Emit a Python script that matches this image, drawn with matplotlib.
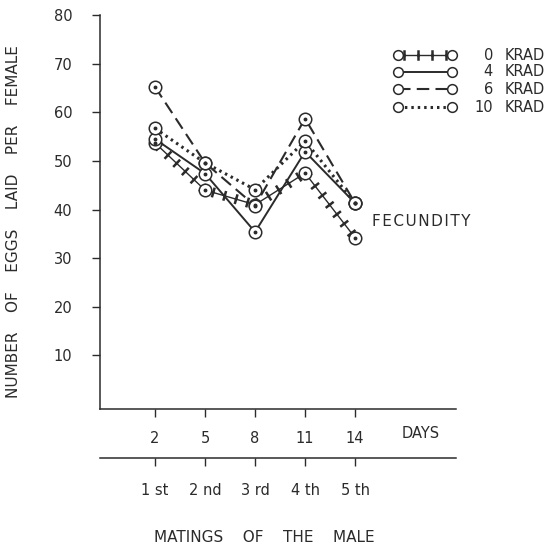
import matplotlib
matplotlib.use("Agg")
import matplotlib.pyplot as plt
import matplotlib.patheffects as pe

plt.rcParams['font.family'] = ['DejaVu Sans']

# ---- data ----
days = [2, 5, 8, 11, 14]
matings = ['1 st', '2 nd', '3 rd', '4 th', '5 th']
eggs_0krad = [53.7, 44.0, 41.0, 47.5, 34.2]
eggs_4krad = [54.5, 47.4, 35.4, 51.9, 41.3]
eggs_6krad = [65.2, 49.6, 40.8, 58.7, 41.3]
eggs_10krad = [56.7, 49.6, 44.1, 54.1, 41.3]
yticks = [10, 20, 30, 40, 50, 60, 70, 80]
legend_labels = ['0', '4', '6', '10']

INK = '#2b2b2b'
W, H = 555, 549

# crosses along the 0 krad line: short ticks on both sides of the stroke
cross_fx = [pe.TickedStroke(angle=90, spacing=8.5, length=0.32, linewidth=1.8),
            pe.TickedStroke(angle=-90, spacing=8.5, length=0.32, linewidth=1.8),
            pe.Normal()]

fig = plt.figure(figsize=(W / 100, H / 100), dpi=100)
fig.patch.set_facecolor('white')

# main axes: spine at x=100, x-axis at y=409
ax = fig.add_axes([100 / W, 1 - 409 / H, 356 / W, 394 / H])
ax.set_xlim(-1.3, 20.05)
ax.set_ylim(-1.0, 80.0)
for s in ['top', 'right']:
    ax.spines[s].set_visible(False)
for s in ['left', 'bottom']:
    ax.spines[s].set_color(INK)
    ax.spines[s].set_linewidth(1.1)

ax.set_yticks(yticks)
ax.set_yticklabels([str(v) for v in yticks])
ax.set_xticks(days)
ax.set_xticklabels([str(d) for d in days])
ax.tick_params(axis='y', direction='out', length=6, width=1.0, color=INK,
               labelcolor=INK, labelsize=10.5, pad=14)
ax.tick_params(axis='x', direction='out', length=6, width=1.0, color=INK,
               labelcolor=INK, labelsize=10.5, pad=10)

# lines
ax.plot(days, eggs_0krad, color=INK, lw=1.0, ls='-', zorder=2,
        path_effects=cross_fx)
ax.plot(days, eggs_4krad, color=INK, lw=1.4, ls='-', zorder=2)
ax.plot(days, eggs_6krad, color=INK, lw=1.5, ls=(0, (6, 3)), zorder=2)
ax.plot(days, eggs_10krad, color=INK, lw=2.2, ls=(0, (0.8, 1.3)), zorder=2)

# open circles with centre dot at every data point
for series in [eggs_0krad, eggs_4krad, eggs_6krad, eggs_10krad]:
    ax.plot(days, series, ls='none', marker='o', ms=9, mfc='white',
            mec=INK, mew=1.1, zorder=4)
    ax.plot(days, series, ls='none', marker='o', ms=1.8, mfc=INK,
            mec=INK, zorder=5)

fig.text(421 / W, 1 - 433 / H, 'DAYS', ha='center', va='center',
         fontsize=10.5, color=INK)
fig.text(421 / W, 1 - 221 / H, 'F E C U N D I T Y'.replace(' ', '\u200a'),
         ha='center', va='center', fontsize=11, color=INK)

# second (matings) axis
ax2 = fig.add_axes([100 / W, 1 - 458 / H, 356 / W, 0.001])
ax2.set_xlim(ax.get_xlim())
ax2.patch.set_visible(False)
for s in ['top', 'right', 'left']:
    ax2.spines[s].set_visible(False)
ax2.spines['bottom'].set_color(INK)
ax2.spines['bottom'].set_linewidth(1.1)
ax2.set_yticks([])
ax2.set_xticks(days)
ax2.set_xticklabels(matings)
ax2.tick_params(axis='x', direction='out', length=6, width=1.0, color=INK,
                labelcolor=INK, labelsize=10.5, pad=12)

fig.text(264 / W, 1 - 538 / H, 'MATINGS    OF    THE    MALE', ha='center',
         va='center', fontsize=11, color=INK)
fig.text(14 / W, 1 - 222 / H, 'NUMBER    OF    EGGS    LAID    PER    FEMALE',
         ha='center', va='center', rotation=90, fontsize=11, color=INK)

# legend drawn in its own small axes
lax = fig.add_axes([390 / W, 1 - 120 / H, 165 / W, 80 / H])
lax.set_xlim(390, 555)
lax.set_ylim(120, 40)
lax.axis('off')
rows_y = [55, 72, 89, 107]
styles = [dict(ls='-', lw=1.0, path_effects=cross_fx),
          dict(ls='-', lw=1.4),
          dict(ls=(0, (6, 3)), lw=1.5),
          dict(ls=(0, (0.8, 1.3)), lw=2.2)]
for yy, st, lab in zip(rows_y, styles, legend_labels):
    lax.plot([398, 452], [yy, yy], color=INK, **st)
    lax.plot([398, 452], [yy, yy], ls='none', marker='o', ms=7, mfc='white',
             mec=INK, mew=1.1, zorder=4)
    lax.text(493, yy, lab, ha='right', va='center', fontsize=10.5, color=INK)
    lax.text(505, yy, 'KRAD', ha='left', va='center', fontsize=10.5, color=INK)

fig.savefig('out.png', dpi=100, facecolor='white')
